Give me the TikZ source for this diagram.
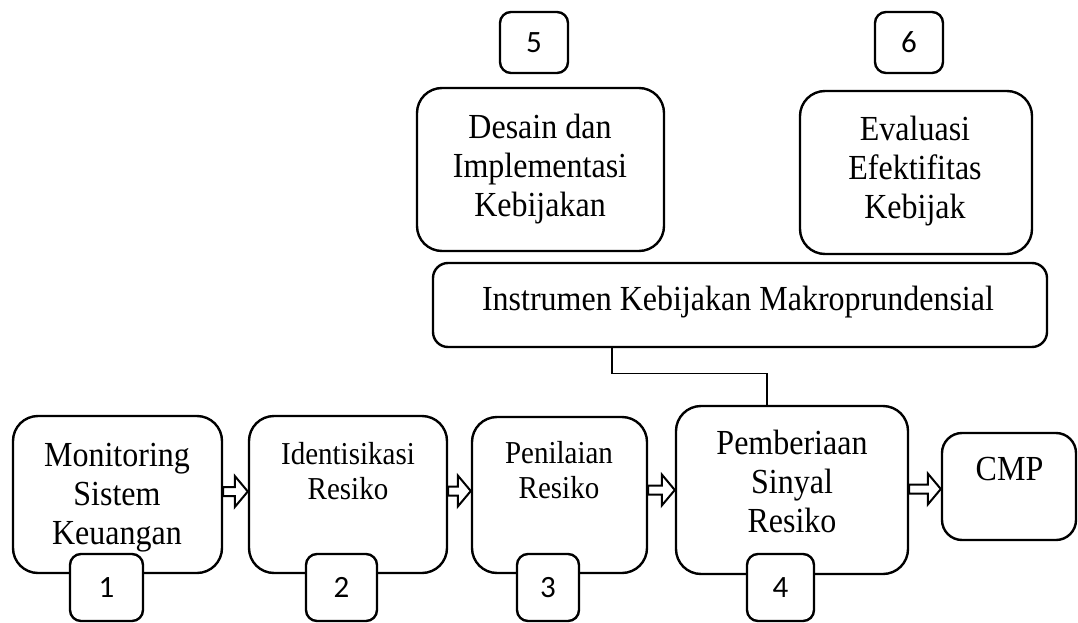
\documentclass[tikz,border=0pt]{standalone}
\usepackage{fontspec}
\usepackage{graphicx}
\setmainfont{Liberation Serif}
\newfontfamily\numfont{Carlito}
\usetikzlibrary{calc}
\newcommand\vst[1]{\scalebox{1}[1.1]{\begin{tabular}{@{}c@{}}#1\end{tabular}}}
\tikzset{
  bigbox/.style={draw, line width=2.4pt, rounded corners=25pt, inner sep=0pt},
  wbox/.style={draw, line width=2.4pt, rounded corners=15pt, inner sep=0pt},
  numbox/.style={draw, line width=2.4pt, rounded corners=11pt, fill=white, inner sep=0pt,
     font={\numfont\fontsize{31}{35}\selectfont}},
  txt/.style={align=center, inner sep=0pt, font={\fontsize{32}{35.5}\selectfont}},
  txts/.style={align=center, inner sep=0pt, font={\fontsize{29}{32}\selectfont}},
  blockarr/.style={draw, line width=2pt, fill=white, line join=miter},
  conn/.style={draw, line width=1.2pt}
}
\newcommand\blkarrow[3]{%
  \draw[blockarr] let \p1=(#1.east), \p2=(#2.west) in
   (\x1,-#3pt+4.5pt) -- (\x2-13pt,-#3pt+4.5pt) -- (\x2-13pt,-#3pt+15.5pt) --
   (\x2,-#3pt) -- (\x2-13pt,-#3pt-15.5pt) -- (\x2-13pt,-#3pt-4.5pt) --
   (\x1,-#3pt-4.5pt) -- cycle;}
\begin{document}
\begin{tikzpicture}[x=1pt,y=-1pt]
\useasboundingbox[fill=white] (0,0) rectangle (1078,623);
% main boxes
\node[bigbox, minimum width=209pt, minimum height=157pt] (m) at (117.5,494.5) {};
\node[bigbox, minimum width=198pt, minimum height=157pt] (id) at (348,494.5) {};
\node[bigbox, minimum width=175pt, minimum height=156pt] (pn) at (559.5,495) {};
\node[bigbox, minimum width=232pt, minimum height=168pt] (pb) at (792,490) {};
\node[bigbox, rounded corners=20pt, minimum width=134pt, minimum height=107pt] (cmp) at (1009,486.5) {};
\node[wbox, minimum width=614pt, minimum height=84pt] (ins) at (740,305) {};
\node[bigbox, minimum width=247pt, minimum height=163pt] (ds) at (540.5,169.5) {};
\node[bigbox, minimum width=232pt, minimum height=163pt] (ev) at (916,172.5) {};
% texts
\node[txt] (tm) at (117,498) {\vst{Monitoring\\Sistem\\Keuangan}};
\node[txts] (tid) at (348,475) {\vst{Identisikasi\\Resiko}};
\node[txts] (tpn) at (559,474) {\vst{Penilaian\\Resiko}};
\node[txt] (tpb) at (792,486) {\vst{Pemberiaan\\Sinyal\\Resiko}};
\node[txt] (tcmp) at (1009.5,473) {\vst{CMP}};
\node[txt] (tins) at (738,303) {\vst{Instrumen Kebijakan Makroprundensial}};
\node[txt] (tds) at (540,170) {\vst{Desain dan\\Implementasi\\Kebijakan}};
\node[txt] (tev) at (915,172) {\vst{Evaluasi\\Efektifitas\\Kebijak}};
% number boxes
\node[numbox, minimum width=73pt, minimum height=67pt] (n1) at (106.5,587.5) {1};
\node[numbox, minimum width=71pt, minimum height=67pt] (n2) at (341.5,587.5) {2};
\node[numbox, minimum width=62pt, minimum height=67pt] (n3) at (548,587.5) {3};
\node[numbox, minimum width=67pt, minimum height=67pt] (n4) at (780.5,587.5) {4};
\node[numbox, minimum width=68pt, minimum height=61pt] (n5) at (534,42.5) {5};
\node[numbox, minimum width=68pt, minimum height=61pt] (n6) at (909,42.5) {6};
% block arrows
\blkarrow{m}{id}{491.5}
\blkarrow{id}{pn}{491}
\blkarrow{pn}{pb}{490}
\blkarrow{pb}{cmp}{489}
% connector
\draw[conn] ([xshift=-128pt]ins.south) -- ++(0,25) -| ([xshift=-25pt]pb.north);
\end{tikzpicture}
\end{document}
